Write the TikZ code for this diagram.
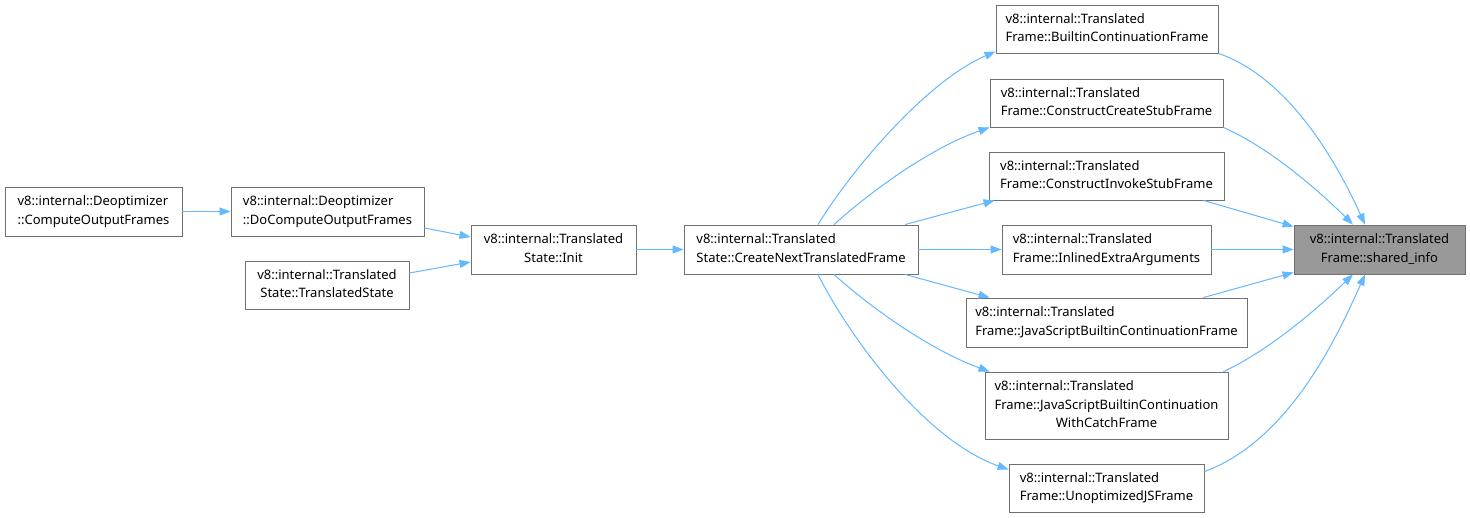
\documentclass[tikz,border=0pt]{standalone}
\usepackage{fontspec}
\setmainfont{Noto Sans}
\usetikzlibrary{arrows.meta}
\definecolor{edgeblue}{HTML}{63B8FF}
\definecolor{boxgray}{HTML}{707070}
\newcommand\twol[2]{\begin{tabular}{@{}c@{}}#1\hfill\mbox{}\\#2\end{tabular}}
\newcommand\threel[3]{\begin{tabular}{@{}c@{}}#1\hfill\mbox{}\\#2\hfill\mbox{}\\#3\end{tabular}}
\tikzset{
  fbox/.style={draw=boxgray, line width=0.9pt, fill=white, inner sep=0pt, font=\fontsize{13}{18.5}\selectfont, text=black},
  edge/.style={draw=edgeblue, line width=1pt, -{Triangle[length=11pt,width=8pt]}},
}
\begin{document}
\begin{tikzpicture}[x=1pt,y=-1pt]
\useasboundingbox (0,0) rectangle (1470,518);
\fill[white] (0,0) rectangle (1470,518);
% left
\node[fbox, minimum width=177pt, minimum height=49pt] (co) at (93.5,211.5) {\twol{v8::internal::Deoptimizer}{::ComputeOutputFrames}};
\node[fbox, minimum width=193pt, minimum height=49pt] (dc) at (327.5,211.5) {\twol{v8::internal::Deoptimizer}{::DoComputeOutputFrames}};
\node[fbox, minimum width=164pt, minimum height=48pt] (ts) at (327,285) {\twol{v8::internal::Translated}{State::TranslatedState}};
\node[fbox, minimum width=165pt, minimum height=49pt] (in) at (553.5,249.5) {\twol{v8::internal::Translated}{State::Init}};
\node[fbox, minimum width=234pt, minimum height=49pt] (cn) at (801,249.5) {\twol{v8::internal::Translated}{State::CreateNextTranslatedFrame}};
% middle column
\node[fbox, minimum width=222pt, minimum height=48pt] (b) at (1107,29) {\twol{v8::internal::Translated}{Frame::BuiltinContinuationFrame}};
\node[fbox, minimum width=233pt, minimum height=48pt] (cc) at (1106.5,103) {\twol{v8::internal::Translated}{Frame::ConstructCreateStubFrame}};
\node[fbox, minimum width=235pt, minimum height=48pt] (ci) at (1106.5,176) {\twol{v8::internal::Translated}{Frame::ConstructInvokeStubFrame}};
\node[fbox, minimum width=209pt, minimum height=49pt] (ie) at (1106.5,249.5) {\twol{v8::internal::Translated}{Frame::InlinedExtraArguments}};
\node[fbox, minimum width=281pt, minimum height=49pt] (js) at (1106.5,322.5) {\twol{v8::internal::Translated}{Frame::JavaScriptBuiltinContinuationFrame}};
\node[fbox, minimum width=243pt, minimum height=67pt] (wc) at (1106.5,405.5) {\threel{v8::internal::Translated}{Frame::JavaScriptBuiltinContinuation}{WithCatchFrame}};
\node[fbox, minimum width=195pt, minimum height=48pt] (uj) at (1106.5,488) {\twol{v8::internal::Translated}{Frame::UnoptimizedJSFrame}};
% target
\node[fbox, fill=black!40, minimum width=171pt, minimum height=49pt] (si) at (1379.5,249.5) {\begin{tabular}{@{}c@{}}v8::internal::Translated\\Frame::shared\_info\end{tabular}};
% edges left
\draw[edge] (co.east) -- (dc.west);
\draw[edge] ([yshift=-16.5pt]dc.east) -- ([yshift=12.5pt]in.west);
\draw[edge] ([yshift=12pt]ts.east) -- ([yshift=-12.5pt]in.west);
\draw[edge] (in.east) -- (cn.west);
% fan out
\draw[edge] ([xshift=17pt]cn.north) .. controls (850,172) and (925,82) .. ([yshift=2pt]b.south west);
\draw[edge] ([xshift=33pt]cn.north) .. controls (870,192) and (930,148) .. (cc.south west);
\draw[edge] ([xshift=104pt]cn.north) -- ([xshift=6pt]ci.south west);
\draw[edge] (cn.east) -- (ie.west);
\draw[edge] ([xshift=104pt]cn.south) -- ([xshift=24pt]js.north west);
\draw[edge] ([xshift=33pt]cn.south) .. controls (870,307) and (930,350) .. ([xshift=5pt]wc.north west);
\draw[edge] ([xshift=17pt]cn.south) .. controls (850,338) and (925,440) .. ([yshift=-6pt]uj.north west);
% fan in
\draw[edge] (b.south east) .. controls (1290,78) and (1338,165) .. ([xshift=-14.5pt]si.north);
\draw[edge] (cc.south east) .. controls (1270,148) and (1318,190) .. ([xshift=-26.5pt]si.north);
\draw[edge] ([xshift=-21pt]ci.south east) -- ([yshift=-2pt]si.north west);
\draw[edge] (ie.east) -- (si.west);
\draw[edge] ([xshift=-44pt]js.north east) -- ([yshift=2pt]si.south west);
\draw[edge] ([xshift=-5pt]wc.north east) .. controls (1270,350) and (1318,308) .. ([xshift=-26.5pt]si.south);
\draw[edge] ([yshift=-8pt]uj.north east) .. controls (1290,440) and (1338,335) .. ([xshift=-14.5pt]si.south);
\end{tikzpicture}
\end{document}
